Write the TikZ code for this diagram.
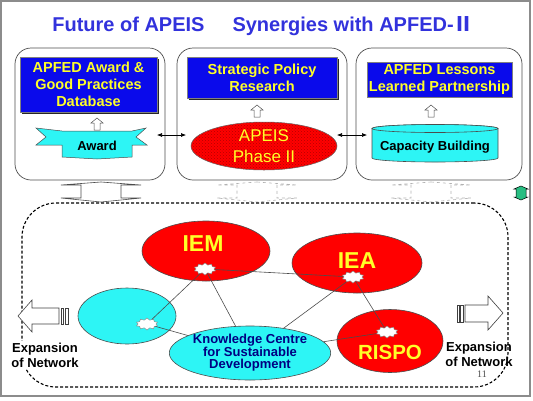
\documentclass[tikz,border=0pt]{standalone}
\usepackage{fontspec}
\setmainfont{Liberation Sans}
\newfontfamily\cjk{Noto Sans CJK JP}
\newfontfamily\numfont{Liberation Serif}
\usetikzlibrary{shapes.geometric, shapes.symbols, arrows.meta, patterns, shadows}
\definecolor{titleblue}{RGB}{50,50,220}
\definecolor{headblue}{RGB}{10,10,235}
\definecolor{hdyellow}{RGB}{255,255,40}
\definecolor{netred}{RGB}{255,0,0}
\definecolor{netcyan}{RGB}{45,245,245}
\definecolor{kcnavy}{RGB}{0,0,130}
\definecolor{arrowgreen}{RGB}{40,190,130}
\tikzset{
    frame/.style={draw=black!45, line width=1.2pt},
    title/.style={text=titleblue, font=\bfseries\fontsize{20}{24}\selectfont, inner sep=0pt},
    topbox/.style={draw=black!70, line width=0.7pt, rounded corners=16pt, minimum height=132pt, inner sep=0pt},
    header/.style={draw=black!50, fill=headblue, text=hdyellow, align=center, inner sep=0pt, font=\bfseries\fontsize{14.5}{17}\selectfont},
    hdshadow/.style={drop shadow={shadow xshift=1.5pt, shadow yshift=-1.5pt, fill=black!85, opacity=1}},
    smallup/.style={draw=black!70, fill=white, line width=0.5pt},
    banner/.style={draw=black!70, fill=netcyan, line width=0.5pt},
    cyl/.style={draw=black!70, fill=netcyan, line width=0.6pt},
    label13/.style={font=\bfseries\fontsize{13}{15}\selectfont, inner sep=0pt},
    dbl/.style={{Latex[length=5pt,width=4pt]}-{Latex[length=5pt,width=4pt]}, line width=0.6pt, black},
    vbar/.style={draw=black!70, fill=white, line width=0.6pt},
    vbarfaded/.style={draw=black!30, dashed, line width=0.6pt},
    netframe/.style={draw=black, dash pattern=on 3pt off 2pt, line width=1.1pt, rounded corners=34pt, inner sep=0pt},
    netnode/.style={ellipse, draw=black!70, line width=0.6pt, inner sep=0pt},
    nettext/.style={text=hdyellow, font=\bfseries\fontsize{23}{26}\selectfont, inner sep=0pt},
    hub/.style={starburst, starburst points=10, starburst point height=2pt, random starburst=0, draw=black!50, fill=white, line width=0.4pt, minimum width=22pt, minimum height=12pt, inner sep=0pt},
    link/.style={draw=black!70, line width=0.6pt},
    bigarrow/.style={draw=black!75, fill=white, line width=0.6pt},
    expand/.style={align=center, font=\bfseries\fontsize{13}{15}\selectfont, inner sep=2pt}
}
\begin{document}
\begin{tikzpicture}[x=1pt, y=-1pt]
    \useasboundingbox (0,0) rectangle (533,400);
    \draw[frame] (1,1) rectangle (530,396);

    \node[title] (title) at (263,26) {Future of APEIS\hspace*{28pt}Synergies with APFED-{\cjk Ⅱ}};

    % upper row
    \node[topbox, minimum width=150pt] (box1) at (90,114) {};
    \node[topbox, minimum width=170pt] (box2) at (262,114) {};
    \node[topbox, minimum width=166pt] (box3) at (439,114) {};

    \node[header, hdshadow, minimum width=137pt, minimum height=55pt] (hd1) at (88.5,84.5) {APFED Award \&\\Good Practices\\Database};
    \node[header, hdshadow, minimum width=150pt, minimum height=41pt] (hd2) at (262,77.5) {Strategic Policy\\Research};
    \node[header, minimum width=145pt, minimum height=35pt] (hd3) at (439.5,79.5) {APFED Lessons\\Learned Partnership};

    \foreach \x/\y in {97/118, 257/105, 431/105}
        \draw[smallup] (\x,\y) -- ++(6,5) -- ++(-3,0) -- ++(0,7) -- ++(-6,0) -- ++(0,-7) -- ++(-3,0) -- cycle;

    \path[banner] (36,128) -- (62,131) -- (132,131) -- (146,128) -- (136,137) -- (147,145) -- (132,145)
        -- (132,157) -- (97,159) -- (62,157) -- (62,145) -- (36,145) -- (46,137) -- cycle;
    \node[label13] (award) at (97,146) {Award};

    \node[ellipse, draw=black!60, line width=0.5pt, minimum width=146pt, minimum height=48pt, inner sep=0pt,
        preaction={fill=netred}, pattern=crosshatch dots, pattern color=red!70!black,
        text=hdyellow, align=center, font=\fontsize{17}{21}\selectfont] (apeis) at (264,146) {APEIS\\Phase II};

    \path[cyl] (372,128.5) -- (372,158) arc[start angle=180, end angle=360, x radius=63pt, y radius=4pt]
        -- (498,128.5) arc[start angle=0, end angle=180, x radius=63pt, y radius=4pt] -- cycle;
    \draw[cyl] (435,128.5) ellipse[x radius=63pt, y radius=4pt];
    \node[label13] (capacity) at (435,147) {Capacity Building};

    \coordinate (j1a) at (157,135);
    \coordinate (j1b) at (186,135);
    \coordinate (j2a) at (337,135);
    \coordinate (j2b) at (367,135);
    \draw[dbl] (j1a) -- (j1b);
    \draw[dbl] (j2a) -- (j2b);

    % links down to the network
    \foreach \x/\st in {101/vbar, 257/vbarfaded, 431/vbarfaded}
        \draw[\st] (\x,182) -- (\x+40,185) -- (\x+20,185) -- (\x+20,198) -- (\x+40,198) -- (\x,202)
            -- (\x-40,198) -- (\x-20,198) -- (\x-20,185) -- (\x-40,185) -- cycle;
    \draw[draw=black, fill=arrowgreen, line width=0.5pt] (521,186) -- (528,189) -- (526,189) -- (526,197) -- (528,197)
        -- (521,200) -- (514,197) -- (516,197) -- (516,189) -- (514,189) -- cycle;

    % network
    \node[netframe, minimum width=486pt, minimum height=184pt] (net) at (265,295) {};

    \node[netnode, fill=netred, minimum width=128pt, minimum height=60pt,
        label={[nettext, xshift=-3pt, yshift=7pt]center:IEM}] (iem) at (206,251) {};
    \node[netnode, fill=netred, minimum width=130pt, minimum height=60pt,
        label={[nettext, yshift=2pt]center:IEA}] (iea) at (357,263) {};
    \node[netnode, fill=netcyan, minimum width=98pt, minimum height=56pt] (west) at (127,316) {};
    \node[netnode, fill=netred, minimum width=106pt, minimum height=63pt,
        label={[nettext, font=\bfseries\fontsize{20.5}{24}\selectfont, yshift=-11pt]center:RISPO}] (rispo) at (390,341) {};
    \node[netnode, fill=netcyan, minimum width=144pt, minimum height=54pt, text=kcnavy, align=center,
        font=\bfseries\fontsize{13}{12.5}\selectfont] (kc) at (250,353) {Knowledge Centre\\for Sustainable\\Development};

    \node[hub] (hiem) at (205,269) {};
    \node[hub] (hiea) at (353,277) {};
    \node[hub] (hwest) at (147,324) {};
    \node[hub] (hrispo) at (387,332) {};

    \draw[link] (hiem) -- (hiea);
    \draw[link] (hiem) -- (hwest);
    \draw[link] (hiem) -- (kc);
    \draw[link] (hwest) -- (kc);
    \draw[link] (hiea) -- (kc);
    \draw[link] (hiea) -- (hrispo);
    \draw[link] (hrispo) -- (kc);

    % expansion arrows
    \draw[bigarrow] (18,316) -- (32,300) -- (32,308) -- (59,308) -- (59,324) -- (32,324) -- (32,332) -- cycle;
    \draw[bigarrow] (61,308) rectangle (63,324);
    \draw[bigarrow] (65,308) rectangle (68,324);
    \draw[bigarrow] (503,313) -- (488,296) -- (488,305) -- (465,305) -- (465,322) -- (488,322) -- (488,330) -- cycle;
    \draw[bigarrow] (457,305) rectangle (459,322);
    \draw[bigarrow] (460.5,305) rectangle (463,322);

    \node[expand, fill=white] (expl) at (45,355) {Expansion\\of Network};
    \node[expand] (expr) at (479,354) {Expansion\\of Network};
    \node[font=\numfont\fontsize{10}{12}\selectfont, text=black!70, inner sep=0pt] (pgnum) at (482,374) {11};
\end{tikzpicture}
\end{document}
